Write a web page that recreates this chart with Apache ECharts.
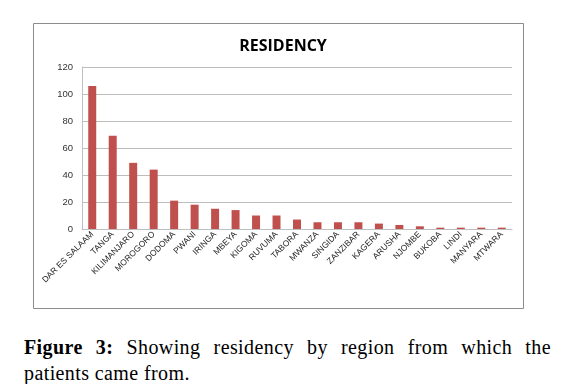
<!DOCTYPE html>
<html><head><meta charset="utf-8">
<script src="https://cdn.jsdelivr.net/npm/echarts@6/dist/echarts.min.js"></script>
<style>
html,body{margin:0;padding:0;background:#fff;}
#wrap{position:relative;width:566px;height:384px;overflow:hidden;}
#chart{position:absolute;left:0;top:0;width:566px;height:320px;}
#cap{position:absolute;left:24px;top:334px;width:527px;font-family:"Liberation Serif","Times New Roman",serif;font-size:20px;letter-spacing:0.4px;line-height:26px;color:#000;}
#cap .l1{text-align:justify;text-align-last:justify;}
</style></head>
<body><div id="wrap"><div id="chart"></div>
<div id="cap"><div class="l1"><b>Figure 3:</b> Showing residency by region from which the</div><div>patients came from.</div></div></div>
<script>
var categories = ["DAR ES SALAAM","TANGA","KILIMANJARO","MOROGORO","DODOMA","PWANI","IRINGA","MBEYA","KIGOMA","RUVUMA","TABORA","MWANZA","SINGIDA","ZANZIBAR","KAGERA","ARUSHA","NJOMBE","BUKOBA","LINDI","MANYARA","MTWARA"];
var values = [106,69,49,44,21,18,15,14,10,10,7,5,5,5,4,3,2,1,1,1,1];
var titleText = "RESIDENCY";

var chart = echarts.init(document.getElementById('chart'), null, {renderer:'canvas'});
chart.setOption({
  animation:false,
  title:{text:titleText,left:'center',top:33,textStyle:{fontFamily:'Open Sans, sans-serif',fontWeight:'bold',fontSize:16,color:'#000'}},
  graphic:[{type:'rect',shape:{x:33.5,y:23.5,width:490,height:285},style:{fill:'none',stroke:'#8c8c8c',lineWidth:1},silent:true}],
  grid:{left:82,right:54,top:67,bottom:91,containLabel:false},
  xAxis:{type:'category',data:categories,
    axisLine:{show:true,lineStyle:{color:'#bfbfbf',width:1}},
    axisTick:{show:false},
    axisLabel:{rotate:45,interval:0,margin:4,fontFamily:'Liberation Sans, sans-serif',fontSize:8.5,color:'#222'}},
  yAxis:{type:'value',min:0,max:120,interval:20,
    axisLine:{show:true,lineStyle:{color:'#bfbfbf'}},
    axisTick:{show:false},
    splitLine:{lineStyle:{color:'#bdbdbd',width:1}},
    axisLabel:{margin:9,fontFamily:'Liberation Sans, sans-serif',fontSize:9.5,color:'#333'}},
  series:[{type:'bar',data:values,barWidth:'39%',itemStyle:{color:'#C0504D'}}]
});
</script></body></html>
